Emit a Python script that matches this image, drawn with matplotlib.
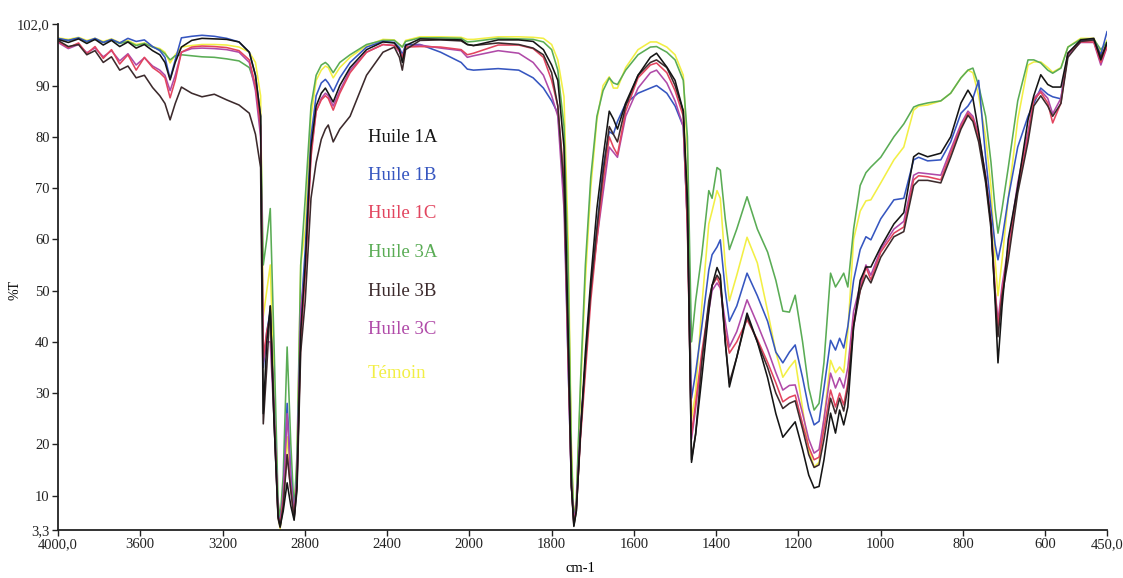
import numpy as np
import matplotlib
matplotlib.use('Agg')
import matplotlib.pyplot as plt

plt.rcParams['font.family'] = ['Liberation Serif', 'DejaVu Serif']

# nombre d'onde (cm-1), grille commune a tous les spectres
wavenumber = [
    4000, 3950, 3900, 3860, 3820, 3780, 3740, 3700, 3660, 3620, 3580, 3540, 3505,
    3480, 3455, 3430, 3400, 3350, 3300, 3240, 3180, 3120, 3070, 3040, 3015,
    3002, 2985, 2968, 2950, 2930, 2920, 2905, 2886, 2868, 2852, 2838, 2820,
    2798, 2770, 2745, 2720, 2700, 2686, 2662, 2630, 2580, 2500, 2420, 2365, 2340, 2326, 2310,
    2240, 2140, 2040, 2010, 1990, 1930, 1880, 1845,
    1820, 1800, 1785, 1770, 1760, 1752, 1746, 1740, 1730, 1718,
    1705, 1690, 1675, 1660, 1650, 1640, 1620, 1590, 1560, 1545, 1520, 1500, 1480,
    1470, 1460, 1450, 1435, 1418,
    1410, 1398, 1390, 1378, 1368, 1350, 1325,
    1300, 1275, 1255, 1238, 1222, 1208, 1190, 1175, 1162, 1150, 1138, 1122, 1110, 1100,
    1090, 1080, 1066, 1050, 1036, 1024, 1000,
    968, 944, 920, 908, 886, 854, 830, 805, 788, 776, 762, 745, 732, 722, 715, 705, 690,
    667, 642, 628, 611, 594, 582, 562, 545, 514, 482, 465, 450,
]

huile_1a = [
    99.0, 98.4, 99.1, 98.2, 99.0, 97.9, 98.8, 97.6, 98.5, 97.3, 98.0, 96.8, 96.0,
    94.5, 91.1, 94.5, 97.5, 98.8, 99.2, 99.1, 99.0, 98.5, 96.5, 92.0, 84.0,
    26, 40, 47, 25, 6, 4.0, 7, 12.5, 8, 5.2, 12, 42,
    55, 78, 86, 88.5, 89.5, 88.5, 86.8, 90, 93.5, 97, 98.5, 98.3, 97, 94.5, 97.8,
    99.1, 99.0, 98.9, 98.0, 97.8, 98.9, 98.9, 98.6,
    97, 94, 91, 78, 42, 12, 4.0, 7, 22, 38,
    52, 66, 76, 85, 83.5, 81.5, 86.6, 92, 95.5, 96.3, 93.6, 91, 85,
    68, 16.5, 22, 33, 46,
    51, 54.5, 53, 40, 31.2, 37, 45.6,
    40, 33, 26, 21.4, 23, 24.4, 19, 14, 11.5, 11.8, 17, 26.1, 22.2, 26.7,
    23.8, 27.3, 42.9, 52, 54.6, 54.6, 58.5,
    63, 65.2, 76.1, 76.8, 76.1, 76.8, 80, 86.6, 89.1, 87.5, 81, 72, 63, 48, 35.9, 47, 60,
    70.2, 83.3, 88, 92.1, 90.2, 89.7, 89.7, 96.3, 98.9, 99.2, 95, 98.3,
]
huile_1b = [
    99.2, 98.8, 99.3, 98.6, 99.2, 98.4, 99.0, 98.3, 99.2, 98.6, 98.9, 97.6, 96.8,
    95.5, 91.3, 95.0, 99.3, 99.6, 99.8, 99.6, 99.2, 98.5, 96.5, 92.0, 84.0,
    35, 42, 46, 28, 6.5, 4.5, 10, 28, 14, 6, 14, 45,
    58, 80, 88, 90.5, 91.2, 90.5, 88.8, 91.5, 94.5, 97.5, 98.6, 98.4, 97.4, 96, 98,
    98.0, 96.5, 94.5, 93.2, 93.0, 93.3, 93.0, 91.5,
    89.5, 87, 84.6, 70, 36, 12, 5.0, 8, 22, 36,
    50, 62, 74, 81, 80.5, 83, 86.5, 88.5, 89.5, 90, 88.5, 86, 82,
    63, 29, 34, 43, 54,
    57, 58.5, 59.9, 50, 44, 47, 53.4,
    49, 44, 38, 35.9, 38, 39.4, 33, 27, 23.8, 24.5, 31, 40.3, 38.4, 40.7,
    38.8, 43, 52, 58, 60.5, 59.9, 64,
    67.7, 68, 75.5, 76, 75.3, 75.5, 79, 84.6, 86, 87.5, 91, 76, 66, 59, 56, 60, 68,
    78, 84, 86.5, 89.5, 88.3, 87.8, 87.4, 96.3, 98.7, 98.9, 96, 100.5,
]
huile_1c = [
    98.6, 97.4, 98.3, 96.2, 97.6, 95.3, 97.0, 94.2, 96.0, 93.0, 95.5, 93.5, 92.5,
    91.5, 87.6, 91.0, 96.5, 97.5, 97.7, 97.6, 97.4, 96.8, 95.0, 90.0, 82.0,
    37, 42, 45, 27, 6, 4.3, 9, 18, 11, 5.8, 13, 40,
    53, 76, 85, 87.2, 88, 87.5, 85.2, 88.5, 92.5, 96.5, 98, 97.8, 96.8, 95.5, 97.5,
    97.6, 97.5, 97.0, 96.0, 96.3, 97.9, 97.9, 97.2,
    95.5, 91, 86, 72, 38, 12, 4.5, 7.5, 21, 34,
    48, 60, 71, 80, 78, 76.5, 85, 91.5, 94, 94.4, 92.5, 89, 84,
    62, 22, 28, 38, 47,
    51, 52.5, 51, 42, 37.8, 40, 44.3,
    40.5, 36, 32, 28.3, 29.2, 29.6, 24, 19.5, 17, 17.5, 23, 30.6, 27.3, 30,
    27.7, 32, 44, 50, 54.6, 52.1, 57.5,
    61.2, 62.4, 71.6, 72.4, 72.2, 71.6, 76.8, 82, 84.6, 83.5, 80, 72, 63, 50, 42.9, 50, 57.3,
    70, 80, 87.2, 88.7, 86.6, 82.7, 86.6, 96.3, 98.5, 98.5, 94.5, 97.6,
]
huile_3a = [
    99.1, 98.8, 99.2, 98.5, 99.0, 98.4, 98.9, 98.2, 98.6, 97.8, 98.2, 97.5, 97.0,
    96.2, 95.0, 95.8, 96.0, 95.8, 95.6, 95.5, 95.2, 94.8, 93.5, 90.0, 82.0,
    55, 60, 66, 40, 9, 5.5, 14, 39, 20, 7, 18, 55,
    68, 86, 92, 94, 94.5, 94, 92.5, 94.5, 96, 98, 98.8, 98.8, 98, 97.5, 98.6,
    99.3, 99.3, 99.2, 98.5, 98.6, 99.2, 99.1, 99.0,
    98.5, 97, 93, 82, 55, 18, 5.5, 9, 32, 55,
    72, 84, 89, 91.5, 90.5, 90.2, 93, 96, 97.5, 97.6, 96.5, 95, 91,
    80, 40, 48, 57, 69.5,
    68, 74, 73.5, 64, 58, 62, 68.3,
    62, 57.5, 52, 46, 45.8, 49.1, 40, 31, 26.7, 28, 36, 53.4, 50.7, 52,
    53.4, 50.7, 62, 70.5, 73, 74.1, 76,
    80, 82.5, 85.8, 86.2, 86.6, 87, 88.5, 91.5, 93, 93.4, 90, 84, 75, 66, 61.2, 66, 74,
    87, 95, 95, 94.4, 93, 92.4, 93.4, 97.5, 99, 99, 97, 98.5,
]
huile_3b = [
    98.8, 97.6, 98.0, 96.0, 96.8, 94.5, 95.6, 93.0, 93.8, 91.5, 92.0, 89.6, 88.0,
    86.5, 83.3, 86.5, 89.7, 88.5, 87.8, 88.3, 87.2, 86.2, 84.6, 80.5, 74.0,
    24, 35, 47, 25, 5.5, 3.8, 8, 18, 11, 5.5, 11, 38,
    48, 68, 75, 79.5, 81.5, 82.3, 79, 81.5, 84, 92, 96.5, 97.5, 95.5, 93, 97,
    98.8, 98.9, 98.7, 98.0, 97.8, 98.3, 98.0, 97.3,
    96, 92.5, 86, 70, 40, 12, 4.2, 7, 22, 36,
    50, 62, 73, 82, 80.5, 79, 86, 92, 94.5, 95, 93.5, 90, 85,
    66, 17, 22, 36, 48,
    51, 53, 52, 40, 32, 37, 45,
    40, 35, 30, 27, 28, 28.5, 23, 18, 15.5, 16, 21, 29, 26, 29,
    26.5, 31, 43, 50, 53, 51.5, 56.5,
    60.5, 61.5, 70.5, 71.5, 71.5, 71, 76, 81.5, 84.2, 83, 79, 71, 62, 49, 41, 49, 56,
    69, 79, 86, 88, 86, 84, 86.5, 95.5, 98.6, 98.9, 95.5, 98.3,
]
huile_3c = [
    98.4, 97.2, 98.0, 96.4, 97.3, 95.6, 96.8, 94.8, 96.2, 94.0, 95.4, 93.8, 93.0,
    92.0, 89.0, 92.0, 96.5, 97.2, 97.3, 97.2, 97.0, 96.5, 94.5, 89.0, 80.0,
    36, 40, 40, 25, 6, 4.5, 10, 26, 13, 6, 13, 46,
    54, 77, 85, 87.5, 88.5, 88, 86, 89, 93, 96.5, 98, 97.8, 96.6, 95.5, 97.6,
    97.9, 97.3, 96.8, 95.5, 95.8, 96.8, 96.3, 94.5,
    92, 88, 84, 66, 36, 12, 4.8, 8, 23, 36,
    50, 60, 69, 78, 77, 76, 84, 89.5, 92.5, 93, 90.5, 87, 82,
    63, 21, 27, 37, 46,
    50, 51.5, 50.5, 44, 39, 42, 48.2,
    43.5, 38.5, 34, 30.6, 31.5, 31.6, 26, 21, 18.3, 19, 25, 33.9, 31, 33,
    31, 35, 46, 51, 55, 53, 58,
    62, 63.5, 72.5, 73, 72.8, 72.5, 77.5, 82.5, 85, 84, 80.5, 72.5, 63.5, 50, 44, 51, 58.5,
    71, 81, 87.5, 89, 87.5, 84.5, 87.5, 96, 98.4, 98.4, 94, 97.5,
]
temoin = [
    99.3, 99.0, 99.4, 98.8, 99.2, 98.6, 99.1, 98.4, 98.8, 98.0, 98.3, 97.6, 97.2,
    96.5, 94.4, 96.0, 97.5, 97.8, 98.0, 98.0, 97.9, 97.5, 96.5, 94.5, 88.0,
    45, 50, 55, 32, 6, 3.6, 10, 21.5, 12, 6, 16, 55,
    62, 84, 91, 93, 93.8, 93.5, 91.5, 93.5, 95.5, 97.8, 99, 98.9, 98, 97.5, 98.8,
    99.5, 99.5, 99.4, 99.0, 99.0, 99.5, 99.5, 99.4,
    99.2, 98, 95, 87.8, 60, 20, 5.5, 9, 30, 52,
    70, 83.3, 90, 91.7, 89.5, 89.5, 93.5, 97, 98.5, 98.5, 97.5, 96, 92,
    77, 25, 30, 47, 63,
    65.5, 69.5, 68, 55, 48, 53, 60.4,
    55.4, 46, 38, 33.1, 35, 36.4, 27, 19, 15.6, 16.5, 25, 36.4, 34, 35.1,
    34, 42, 60, 65.5, 67.5, 67.7, 71,
    75.5, 78, 85.2, 86, 86.2, 87, 88.5, 91.5, 93, 92.5, 88, 80, 70.2, 56, 49, 56, 68,
    83.3, 94, 94.6, 94.6, 93.5, 92.6, 93.5, 97.5, 99.2, 99.2, 96.5, 98.8,
]

labels = ['Huile 1A', 'Huile 1B', 'Huile 1C', 'Huile 3A', 'Huile 3B', 'Huile 3C', 'Témoin']
colors = ['#151515', '#3656c0', '#e2455f', '#5aac55', '#3c2a2c', '#b04aa8', '#f2ef45']
data = [huile_1a, huile_1b, huile_1c, huile_3a, huile_3b, huile_3c, temoin]

xtick_values = [4000, 3600, 3200, 2800, 2400, 2000, 1800, 1600, 1400, 1200, 1000, 800, 600, 450]
xtick_labels = ['4000,0', '3600', '3200', '2800', '2400', '2000', '1800', '1600', '1400',
                '1200', '1000', '800', '600', '450,0']
ytick_values = [3.3, 10, 20, 30, 40, 50, 60, 70, 80, 90, 102]
ytick_labels = ['3,3', '10', '20', '30', '40', '50', '60', '70', '80', '90', '102,0']


# echelle en x : compression x2 au-dessus de 2000 cm-1
def fwd(x):
    x = np.asarray(x, dtype=float)
    return np.where(x > 2000, 2000 + (x - 2000) / 2.0, x)


def inv(u):
    u = np.asarray(u, dtype=float)
    return np.where(u > 2000, 2000 + (u - 2000) * 2.0, u)


W, H = 1123, 578
fig = plt.figure(figsize=(W / 100, H / 100), dpi=100)
ax = fig.add_axes([58 / W, 48 / H, 1049 / W, 506 / H])
ax.set_xscale('function', functions=(fwd, inv))

order = [6, 3, 1, 5, 2, 4, 0]
for i in order:
    ax.plot(wavenumber, data[i], color=colors[i], lw=1.15)

ax.set_xlim(4000, 450)
ax.set_ylim(3.3, 102)
ax.set_xticks(xtick_values)
ax.set_xticklabels(xtick_labels)
ax.set_yticks(ytick_values)
ax.set_yticklabels(ytick_labels)
ax.minorticks_off()
for s in ['top', 'right']:
    ax.spines[s].set_visible(False)
for s in ['left', 'bottom']:
    ax.spines[s].set_linewidth(1.3)
    ax.spines[s].set_color('#222222')
ax.tick_params(direction='out', length=4, width=1, labelsize=10.5, colors='#222222', pad=2)

# legende ecrite a la main, comme sur l'original
leg_y = [137, 176, 214, 253, 292, 330, 373]
for lab, col, y in zip(labels, colors, leg_y):
    fig.text(368 / W, 1 - y / H, lab, color=col, fontsize=13.5, va='center', ha='left')

fig.text(15 / W, 1 - 290 / H, '%T', rotation=90, fontsize=10, va='center', ha='center')
fig.text(580 / W, 1 - 569 / H, 'cm-1', fontsize=10.5, va='center', ha='center')

plt.savefig('out.png', dpi=100)
plt.close()
